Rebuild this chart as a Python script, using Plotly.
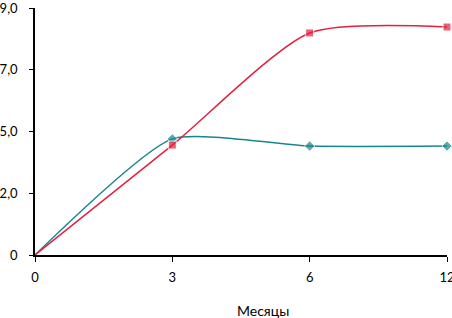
import plotly.graph_objects as go

categories = ["0", "3", "6", "12"]
red_values = [0, 4.45, 8.99, 9.23]
teal_values = [0, 4.70, 4.41, 4.41]
y_tick_vals = [0, 2.5, 5, 7.5, 10]
y_tick_text = ["0", "2,0", "5,0", "7,0", "9,0"]
x_title = "Месяцы"

xs = list(range(len(categories)))
font = "Lato, 'Open Sans', sans-serif"

fig = go.Figure()
fig.add_trace(go.Scatter(
    x=xs, y=teal_values, mode="lines+markers",
    line=dict(color="#17868c", width=1.5, shape="spline", smoothing=0.55),
    marker=dict(symbol="diamond", size=[0, 8, 8, 8], color="#17868c"),
    cliponaxis=False, showlegend=False))
fig.add_trace(go.Scatter(
    x=xs, y=red_values, mode="lines+markers",
    line=dict(color="#e3203d", width=1.5, shape="spline", smoothing=0.65),
    marker=dict(symbol="square", size=[0, 8, 8, 8], color="#e3203d"),
    cliponaxis=False, showlegend=False))

fig.update_layout(
    width=452, height=318,
    margin=dict(l=35, r=5, t=8, b=63, autoexpand=False),
    paper_bgcolor="white", plot_bgcolor="white",
    font=dict(family=font, size=13, color="black"),
    xaxis=dict(range=[0, 3], tickvals=xs, ticktext=categories,
               showline=True, linecolor="black", linewidth=1.5,
               ticks="outside", ticklen=5, tickcolor="black", tickwidth=1,
               showgrid=False, zeroline=False, automargin=False,
               ticklabeloverflow="allow", ticklabelstandoff=5),
    yaxis=dict(range=[0, 10], tickvals=y_tick_vals, ticktext=y_tick_text,
               showline=True, linecolor="black", linewidth=1.5,
               ticks="outside", ticklen=4, tickcolor="black", tickwidth=1,
               showgrid=False, zeroline=False, automargin=False,
               ticklabeloverflow="allow", ticklabelstandoff=9),
    annotations=[dict(text=x_title, xref="paper", yref="paper",
                      x=(263 - 35) / 412, y=-(310 - 255) / 247,
                      showarrow=False, font=dict(size=14),
                      xanchor="center", yanchor="middle")],
)

fig.write_html("out.html", config={"displayModeBar": False})
with open("out.html", encoding="utf-8") as f:
    html = f.read()
html = html.replace("<head>", "<head><style>html,body{margin:0;padding:0;overflow:hidden;}</style>", 1)
with open("out.html", "w", encoding="utf-8") as f:
    f.write(html)
